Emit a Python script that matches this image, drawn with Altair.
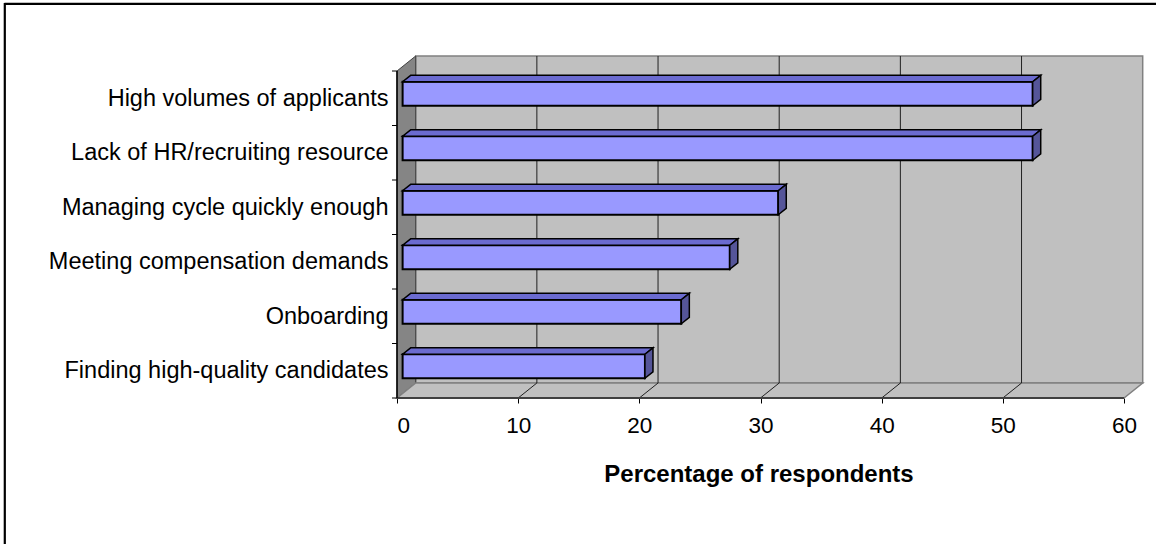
import json
import altair as alt
import pandas as pd

# ---------------- data (bottom to top) ----------------
categories = [
    "Finding high-quality candidates",
    "Onboarding",
    "Meeting compensation demands",
    "Managing cycle quickly enough\u00a0\u00a0",
    "Lack of HR/recruiting resource",
    "High volumes of applicants",
]
values = [20, 23, 27, 31, 52, 52]
x_ticks = [0, 10, 20, 30, 40, 50, 60]
x_title = "Percentage of respondents"

# ---------------- geometry (pixels -> data units) ----------------
FRONT_W = 727.0          # px for 0..60 on the front plane
BAND_PX = 54.5           # px per category band
DEPTH_X_PX, DEPTH_Y_PX = 18.7, 15.0
PX = FRONT_W / 60.0
W = FRONT_W + DEPTH_X_PX
H = 6 * BAND_PX + DEPTH_Y_PX
DX = DEPTH_X_PX / PX
DY = DEPTH_Y_PX / BAND_PX
XMAX = 60 + DX
YMAX = 6 + DY
T_FRONT, T_BACK = 0.30, 0.73
BAR_LO, BAR_HI = 0.28, 0.72
sx, sy = T_FRONT * DX, T_FRONT * DY
bx, by = T_BACK * DX, T_BACK * DY

FONT = "Liberation Sans"

XS = alt.Scale(domain=[0, XMAX], nice=False, zero=False)
YS = alt.Scale(domain=[0, YMAX], nice=False, zero=False)

XA = alt.Axis(values=x_ticks, domain=False, grid=False, tickSize=5, tickColor="black",
              tickWidth=1, labelFontSize=22.5, labelFont=FONT, labelColor="black",
              labelPadding=11, title=x_title, titleFont=FONT, titleFontSize=24,
              titleFontWeight="bold", titleColor="black", titlePadding=26,
              titleX=FRONT_W / 2 - 2, titleAlign="center")
cat_js = json.dumps(categories)
YA = alt.Axis(values=[i + 0.5 for i in range(6)], domain=False, grid=False, ticks=False,
              labelExpr=f"{cat_js}[round(datum.value - 0.5)]", labelFontSize=23.5,
              labelFont=FONT, labelColor="black", labelPadding=9, labelLimit=500, title=None)


def X(f):
    return alt.X(f, type="quantitative", scale=XS, axis=XA, stack=None)


def Y(f):
    return alt.Y(f, type="quantitative", scale=YS, axis=YA, stack=None)


# ---------------- walls ----------------
back = pd.DataFrame({"x0": [DX], "x1": [XMAX], "y0": [DY], "y1": [YMAX]})
back_wall = alt.Chart(back).mark_rect(fill="#C0C0C0", stroke="#808080", strokeWidth=1.5).encode(
    x=X("x0"), x2="x1", y=Y("y0"), y2="y1")

left = pd.DataFrame({"x": [0, DX], "ylo": [0, DY], "yhi": [6, YMAX]})
left_wall = alt.Chart(left).mark_area(orient="vertical", fill="#858585", stroke="#404040",
                                      strokeWidth=1, opacity=1).encode(
    x=X("x"), y=Y("ylo"), y2="yhi")

floor = pd.DataFrame({"y": [0, DY], "xl": [0, DX], "xr": [60, XMAX]})
floor_layer = alt.Chart(floor).mark_area(orient="horizontal", fill="#C0C0C0", stroke="#808080",
                                         strokeWidth=1.5, opacity=1).encode(
    y=Y("y"), x=X("xl"), x2="xr")

grid_vals = [10, 20, 30, 40, 50]
gback = pd.DataFrame({"x": [g + DX for g in grid_vals], "y0": DY, "y1": YMAX})
grid_back = alt.Chart(gback).mark_rule(color="#202020", strokeWidth=1).encode(
    x=X("x"), y=Y("y0"), y2="y1")
gfloor = pd.DataFrame({"x0": grid_vals, "x1": [g + DX for g in grid_vals], "y0": 0.0, "y1": DY})
grid_floor = alt.Chart(gfloor).mark_rule(color="#202020", strokeWidth=1).encode(
    x=X("x0"), x2="x1", y=Y("y0"), y2="y1")

# ---------------- bars ----------------
front_rows, top_rows, side_rows = [], [], []
for i, (c, v) in enumerate(zip(categories, values)):
    front_rows.append({"cat": c, "x0": sx, "x1": v + sx, "y0": i + BAR_LO + sy, "y1": i + BAR_HI + sy})
    top_rows.append({"cat": c, "y": i + BAR_HI + sy, "xl": sx, "xr": v + sx})
    top_rows.append({"cat": c, "y": i + BAR_HI + by, "xl": bx, "xr": v + bx})
    side_rows.append({"cat": c, "x": v + sx, "ylo": i + BAR_LO + sy, "yhi": i + BAR_HI + sy})
    side_rows.append({"cat": c, "x": v + bx, "ylo": i + BAR_LO + by, "yhi": i + BAR_HI + by})

bar_front = alt.Chart(pd.DataFrame(front_rows)).mark_rect(
    fill="#9999FF", stroke="black", strokeWidth=2).encode(
    x=X("x0"), x2="x1", y=Y("y0"), y2="y1")
bar_top = alt.Chart(pd.DataFrame(top_rows)).mark_area(
    orient="horizontal", fill="#6B6BD0", stroke="black", strokeWidth=1.5, opacity=1,
    strokeJoin="miter").encode(y=Y("y"), x=X("xl"), x2="xr", detail="cat:N")
bar_side = alt.Chart(pd.DataFrame(side_rows)).mark_area(
    orient="vertical", fill="#555599", stroke="black", strokeWidth=1.5, opacity=1,
    strokeJoin="miter").encode(x=X("x"), y=Y("ylo"), y2="yhi", detail="cat:N")

# ---------------- axis lines and y ticks ----------------
xline = alt.Chart(pd.DataFrame({"x0": [0], "x1": [60], "y": [0]})).mark_rule(
    color="#404040", strokeWidth=2).encode(x=X("x0"), x2="x1", y=Y("y"))
yline = alt.Chart(pd.DataFrame({"x": [0], "y0": [0], "y1": [6]})).mark_rule(
    color="black", strokeWidth=1.5).encode(x=X("x"), y=Y("y0"), y2="y1")
yt = pd.DataFrame({"x0": -5 / PX, "x1": 0.0, "y": list(range(7))})
yticks = alt.Chart(yt).mark_rule(color="black", strokeWidth=1).encode(
    x=X("x0"), x2="x1", y=Y("y"))

# ---------------- outer frame ----------------
PAD_L, PAD_T = 397, 56
frame_top = alt.Chart(pd.DataFrame({"k": [0]})).mark_rule(color="black", strokeWidth=2.2).encode(
    x=alt.value(4.5 - PAD_L), x2=alt.value(1160 - PAD_L), y=alt.value(3.8 - PAD_T))
frame_left = alt.Chart(pd.DataFrame({"k": [0]})).mark_rule(color="black", strokeWidth=2.2).encode(
    x=alt.value(4.8 - PAD_L), y=alt.value(3 - PAD_T), y2=alt.value(560 - PAD_T))

chart = alt.layer(
    back_wall, left_wall, floor_layer, grid_back, grid_floor,
    bar_front, bar_top, bar_side, xline, yline, yticks, frame_top, frame_left,
).properties(
    width=W, height=H,
    autosize=alt.AutoSizeParams(type="none"),
    padding={"left": PAD_L, "top": PAD_T, "right": 1156 - PAD_L - W, "bottom": 544 - PAD_T - H},
    background="white",
).configure_view(stroke=None)

chart.save("out.html", embed_options={"renderer": "svg", "actions": False})
